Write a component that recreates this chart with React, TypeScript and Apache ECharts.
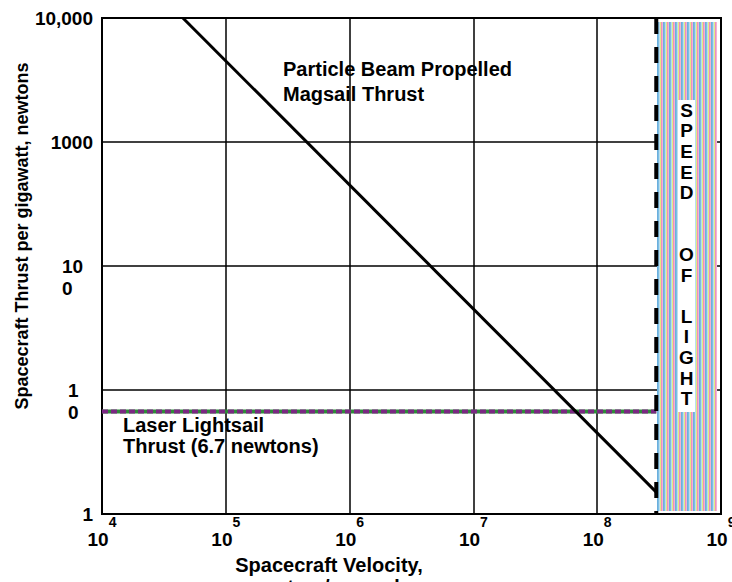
import { useEffect, useRef } from "react";
import * as echarts from "echarts";

// ---- data ----
const xTickExponents = [4, 5, 6, 7, 8, 9];
const yTickValues = [1, 10, 100, 1000, 10000];
const yTickLabels = ["1", "1\n0", "10\n0", "1000", "10,000"];

const speedOfLight = 3e8;
const magsailVelocity = [4.5e4, 3e8];
const magsailThrust = [10000, 1.5];
const laserVelocity = [1e4, 3e8];
const laserThrust = [6.7, 6.7];

const magsailLabel = ["Particle Beam Propelled", "Magsail Thrust"];
const laserLabel = ["Laser Lightsail", "Thrust (6.7 newtons)"];
const lightLabel = ["S", "P", "E", "E", "D", "", "", "O", "F", "", "L", "I", "G", "H", "T"];
const xTitle = ["Spacecraft Velocity,", "meters/second"];
const yTitle = "Spacecraft Thrust per gigawatt, newtons";

const stripeColors = ["#6ab0de", "#7fbce3", "#b8e0ee", "#e1ec84", "#ee8fbf", "#f2b3d2"];

const FONT = "Arial, 'Liberation Sans', Helvetica, sans-serif";

export default function App() {
  const ref = useRef<HTMLDivElement | null>(null);

  useEffect(() => {
    document.body.style.margin = "0";
    document.documentElement.style.overflow = "hidden";
    if (!ref.current) return;
    const chart = echarts.init(ref.current, undefined, { renderer: "svg" });

    const yFormatter = (v: number) => {
      let idx = 0;
      let best = Infinity;
      yTickValues.forEach((t, i) => {
        const d = Math.abs(Math.log10(v) - Math.log10(t));
        if (d < best) {
          best = d;
          idx = i;
        }
      });
      const lbl = yTickLabels[idx];
      if (lbl.indexOf("\n") < 0) return `{n|${lbl}}`;
      const lines = lbl.split("\n");
      if (lines[0].length >= 2) return `{a|${lines[0]}}\n{a|${lines[1]}}`;
      return `{c|${lines[0]}}\n{c|${lines[1]}}`;
    };

    const xFormatter = (v: number) => {
      const e = Math.round(Math.log10(v));
      const exp = xTickExponents.find((x) => x === e) ?? e;
      return `{b|10}{e|${exp}}`;
    };

    const tickRich = (extra: any) => ({
      fontSize: 19,
      fontWeight: "bold",
      fontFamily: FONT,
      color: "#000",
      lineHeight: 22,
      ...extra,
    });

    const option: any = {
      animation: false,
      backgroundColor: "#fff",
      grid: {
        left: 102,
        top: 18,
        right: 11,
        bottom: 68,
        outerBoundsMode: "none",
        containLabel: false,
        show: true,
        borderColor: "#000",
        borderWidth: 2,
        backgroundColor: "transparent",
      },
      xAxis: {
        type: "log",
        logBase: 10,
        min: 1e4,
        max: 1e9,
        name: xTitle.join("\n"),
        nameLocation: "middle",
        nameGap: 40,
        nameMoveOverlap: false,
        nameTextStyle: {
          fontSize: 20,
          fontWeight: "bold",
          fontFamily: FONT,
          color: "#000",
          lineHeight: 22,
          padding: [0, 165, 0, 0],
        },
        axisLine: { show: true, lineStyle: { color: "#000", width: 2 } },
        axisTick: { show: false },
        splitLine: { show: true, lineStyle: { color: "#000", width: 1.5 } },
        axisLabel: {
          margin: 1,
          formatter: xFormatter,
          color: "#000",
          hideOverlap: false,
          rich: {
            b: {
              fontSize: 19,
              fontWeight: "bold",
              fontFamily: FONT,
              color: "#000",
              lineHeight: 48,
            },
            e: {
              fontSize: 14,
              fontWeight: "bold",
              fontFamily: FONT,
              color: "#000",
              lineHeight: 20,
              verticalAlign: "top",
            },
          },
        },
      },
      yAxis: {
        type: "log",
        logBase: 10,
        min: 1,
        max: 10000,
        name: yTitle,
        nameLocation: "middle",
        nameRotate: 90,
        nameGap: 71,
        nameMoveOverlap: false,
        nameTextStyle: {
          fontSize: 18,
          fontWeight: "bold",
          fontFamily: FONT,
          color: "#000",
          padding: [0, 0, 0, 60],
        },
        axisLine: { show: true, lineStyle: { color: "#000", width: 2 } },
        axisTick: { show: false },
        splitLine: { show: true, lineStyle: { color: "#000", width: 1.5 } },
        axisLabel: {
          margin: 9,
          formatter: yFormatter,
          color: "#000",
          hideOverlap: false,
          rich: {
            n: tickRich({}),
            a: tickRich({ width: 31, align: "left", padding: [22, 0, 0, 0] }),
            c: tickRich({ width: 25, align: "left", padding: [22, 0, 0, 0] }),
          },
        },
      },
      series: [
        {
          type: "custom",
          name: "speed of light band",
          coordinateSystem: "cartesian2d",
          clip: false,
          z: 3,
          data: [[speedOfLight, 1]],
          renderItem: (params: any, api: any) => {
            const cs = params.coordSys;
            const x0 = Math.round(api.coord([api.value(0), api.value(1)])[0]) + 1;
            const x1 = Math.round(cs.x + cs.width - 4);
            const y0 = cs.y + 4;
            const y1 = cs.y + cs.height - 3;
            const children: any[] = [];
            let i = 0;
            for (let x = x0; x < x1; x += 1) {
              children.push({
                type: "rect",
                shape: { x, y: y0, width: 1.05, height: y1 - y0 },
                style: { fill: stripeColors[i % stripeColors.length] },
              });
              i++;
            }
            return { type: "group", children };
          },
        },
        {
          type: "line",
          name: "laser base",
          data: laserVelocity.map((v, i) => [v, laserThrust[i]]),
          symbol: "none",
          z: 4,
          lineStyle: { color: "#2e8b3a", width: 4 },
        },
        {
          type: "line",
          name: "Laser Lightsail Thrust",
          data: laserVelocity.map((v, i) => [v, laserThrust[i]]),
          symbol: "none",
          z: 5,
          lineStyle: { color: "#7a2882", width: 4, type: [6, 3] },
        },
        {
          type: "line",
          name: "Particle Beam Propelled Magsail Thrust",
          data: magsailVelocity.map((v, i) => [v, magsailThrust[i]]),
          symbol: "none",
          z: 6,
          lineStyle: { color: "#000", width: 3 },
        },
        {
          type: "line",
          name: "Speed of light",
          data: [
            [speedOfLight, 10000],
            [speedOfLight, 1],
          ],
          symbol: "none",
          z: 7,
          lineStyle: { color: "#000", width: 4, type: [16, 13] },
        },
      ],
      graphic: [
        {
          type: "text",
          left: 283,
          top: 57,
          z: 10,
          style: {
            text: magsailLabel.join("\n"),
            font: `bold 20px ${FONT}`,
            lineHeight: 24.5,
            fill: "#000",
          },
        },
        {
          type: "text",
          left: 123,
          top: 414,
          z: 10,
          style: {
            text: laserLabel.join("\n"),
            font: `bold 20px ${FONT}`,
            lineHeight: 21.5,
            fill: "#000",
          },
        },
        {
          type: "rect",
          shape: { x: 678, y: 100, width: 17, height: 312 },
          z: 10,
          style: { fill: "#fff" },
        },
        {
          type: "text",
          x: 686.5,
          y: 100,
          z: 11,
          style: {
            text: lightLabel.join("\n"),
            font: `bold 19px ${FONT}`,
            lineHeight: 20.6,
            fill: "#000",
            align: "center",
            verticalAlign: "top",
            textAlign: "center",
            textVerticalAlign: "top",
          },
        },
      ],
    };

    chart.setOption(option);
    return () => {
      chart.dispose();
    };
  }, []);

  return <div ref={ref} style={{ width: 732, height: 582 }} />;
}
